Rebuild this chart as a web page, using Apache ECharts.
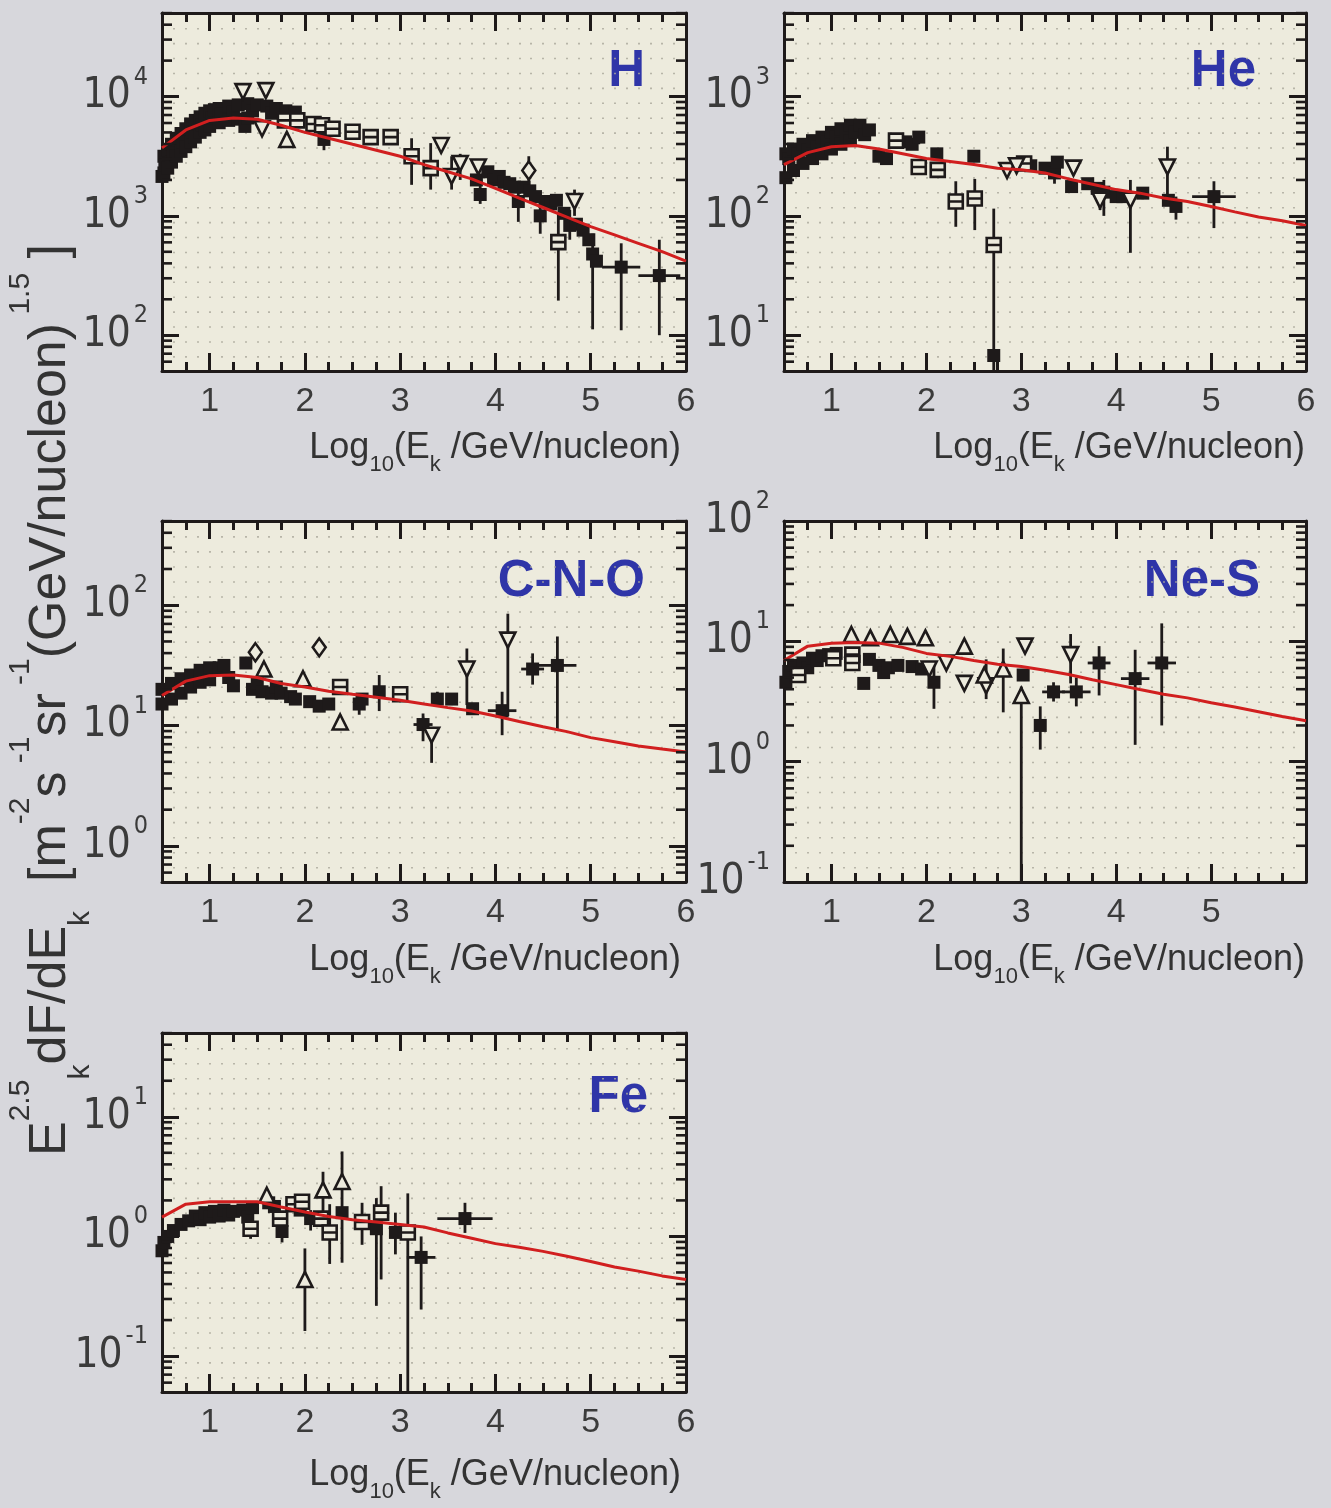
<!DOCTYPE html>
<html><head><meta charset="utf-8">
<script src="https://cdn.jsdelivr.net/npm/echarts@6.0.0/dist/echarts.min.js"></script>
<style>html,body{margin:0;padding:0;background:#d7d7dc;}#chart{width:1331px;height:1508px;}</style>
</head><body><div id="chart"></div>
<script>
// ---------------- tick labels ----------------
const xTickLabels = [1, 2, 3, 4, 5, 6];
const xTickLabelsNeS = [1, 2, 3, 4, 5];
const logMinorMantissas = [2, 3, 4, 5, 6, 7, 8, 9];
const panelNames = ['H', 'He', 'C-N-O', 'Ne-S', 'Fe'];

// ---------------- data: [log10(Ek), flux, yLow, yHigh, xHalfErr] ----------------
// H
const H_model = [[0.5,3715],[0.75,5250],[1.0,6310],[1.25,6610],[1.5,6460],[1.75,5750],[2.0,5010],[2.25,4470],[2.5,3980],[2.75,3550],[3.0,3160],[3.25,2690],[3.5,2340],[3.75,2040],[4.0,1700],[4.25,1410],[4.5,1175],[4.75,977],[5.0,813],[5.25,692],[5.5,589],[5.75,501],[6.0,417]];
const H_filled = [[0.50,2140],[0.52,2290],[0.52,3160],[0.53,2690],[0.56,2510],[0.56,3550],[0.60,2820],[0.60,3980],[0.62,3390],[0.65,3160],[0.65,4470],[0.70,3470],[0.70,4900],[0.72,4170],[0.75,3800],[0.75,5370],[0.80,4170],[0.80,5890],[0.82,5010],[0.85,4570],[0.85,6310],[0.90,5010],[0.90,6760],[0.92,5750],[0.95,5250],[0.95,7240],[1.00,5620],[1.00,7590],[1.02,6610],[1.05,7760],[1.10,6030],[1.10,7940],[1.12,7080],[1.20,6310],[1.20,8320],[1.25,7410],[1.30,6460],[1.30,8510],[1.37,5620],[1.40,6610],[1.40,8710],[1.45,7590],[1.50,8510],[1.60,8320],[1.65,7240],[1.70,7940],[1.80,7590],[1.90,7410],
  [2.20,4370,3550,4900],[3.80,2000],[3.84,1510,1260,1820],[3.92,2340],[3.98,2000],[4.04,2140],[4.09,1910],[4.15,1860],[4.20,1740],[4.24,1320,891,1585],[4.30,1740],[4.36,1620],[4.42,1450],[4.47,1000,708,1200],[4.52,1320],[4.58,1260],[4.64,1350],[4.72,1050],[4.78,832,631,1120],[4.85,851],[4.92,759],[4.98,631],[5.02,479,112,708],[5.06,417],[5.32,372,110,589,0.2],[5.72,316,100,631,0.22]];
const H_openSq = [[1.79,6310],[1.92,6310],[2.09,5890],[2.18,5750],[2.29,5370],[2.50,5070],[2.69,4570],[2.90,4570],[3.12,3160,1820,4470],[3.32,2510,1660,4070],[4.66,603,195,1050]];
const H_triDown = [[1.35,11000,9550,11500],[1.59,11200],[1.55,5370],[3.43,3890],[3.54,2140,1660,3160],[3.63,2750,2000,3310],[3.82,2570],[4.83,1320,1000,1660]];
const H_triUp = [[1.81,4370,3800,5010]];
const H_diamond = [[4.35,2400,1660,3160]];
// He
const He_model = [[0.5,269],[0.75,339],[1.0,380],[1.25,389],[1.5,363],[1.75,331],[2.0,302],[2.25,285],[2.5,269],[2.75,251],[3.0,243],[3.25,229],[3.5,204],[3.75,184],[4.0,166],[4.25,155],[4.5,141],[4.75,132],[5.0,120],[5.25,108],[5.5,98],[5.75,91],[6.0,83]];
const He_filled = [[0.52,331],[0.52,209],[0.55,302],[0.60,363],[0.60,240],[0.65,331],[0.70,398],[0.70,275],[0.75,355],[0.80,427],[0.80,302],[0.85,380],[0.90,457],[0.90,331],[0.95,417],[1.00,501],[1.00,363],[1.05,457],[1.10,537],[1.10,398],[1.15,490],[1.20,575],[1.20,427],[1.25,501],[1.30,575],[1.35,479],[1.40,525],
  [1.50,316],[1.58,302],[1.78,417],[1.85,398],[1.92,457,398,490],[2.11,331],[2.50,316,288,355],[2.71,6.76],[3.10,263],[3.25,251],[3.35,229,186,263],[3.38,282],[3.53,176],[3.70,186],[3.80,170],[3.87,158,100,200],[4.00,145],[4.07,145],[4.28,155,138,174],[4.55,135],[4.63,120,93,145],[5.03,145,79,195,0.23]];
const He_openSq = [[1.68,427],[1.92,257],[2.12,243],[2.31,132,81,195],[2.51,140,76,204],[2.71,57,4,115],[3.03,275]];
const He_triDown = [[2.85,240],[2.95,263],[3.55,251],[3.83,135,112,158],[4.15,135,49,200],[4.54,257,145,380]];
const He_triUp = [];
const He_diamond = [];
// C-N-O
const CNO_model = [[0.5,17.8],[0.75,23.4],[1.0,26.0],[1.25,26.3],[1.5,25.1],[1.75,22.4],[2.0,20.9],[2.25,19.3],[2.5,18.2],[2.75,17.2],[3.0,16.2],[3.25,15.1],[3.5,14.1],[3.75,13.2],[4.0,12.0],[4.25,10.8],[4.5,9.77],[4.75,8.91],[5.0,7.94],[5.25,7.33],[5.5,6.76],[5.75,6.38],[6.0,6.03]];
const CNO_filled = [[0.50,20.0],[0.50,15.1],[0.60,22.4],[0.60,16.6],[0.70,24.5],[0.70,18.6],[0.80,26.3],[0.80,20.9],[0.90,28.8],[0.90,22.9],[1.00,30.2],[1.00,24.0],[1.10,30.2],[1.15,31.6],[1.20,25.1],[1.25,21.4],[1.38,33.1],[1.45,20.0],[1.50,22.4],[1.55,19.1],[1.65,18.6],[1.70,20.9],[1.75,18.6],[1.85,17.4],[1.90,16.6],[2.05,15.8],[2.15,14.5],[2.25,15.1],
  [2.57,15.1,12.3,17.8],[2.60,16.6],[2.78,19.1,13.2,26.3],[3.24,10.2,7.41,12.6,0.1],[3.39,16.6,14.5,19.1,0.06],[3.54,16.6,14.8,18.6,0.06],[3.76,13.8],[4.07,13.3,8.32,19.1,0.15],[4.39,29.5,21.9,39.8,0.12],[4.65,31.6,9.33,55.0,0.2]];
const CNO_openSq = [[2.37,20.9],[3.00,18.2]];
const CNO_triDown = [[3.33,8.32,4.90,9.5],[3.70,29.5,14.8,43.7],[4.13,51.3,12.0,85.1]];
const CNO_triUp = [[1.57,29.5],[1.98,24.5],[2.37,10.7,9.55,12.3]];
const CNO_diamond = [[1.48,40.7,38,47.9],[2.15,44.7]];
// Ne-S
const NeS_model = [[0.5,6.92],[0.75,9.12],[1.0,9.66],[1.25,9.77],[1.5,9.66],[1.75,8.91],[2.0,7.94],[2.25,7.5],[2.5,6.92],[2.75,6.46],[3.0,6.17],[3.25,5.75],[3.5,5.31],[3.75,4.79],[4.0,4.37],[4.25,3.98],[4.5,3.63],[4.75,3.39],[5.0,3.09],[5.25,2.85],[5.5,2.6],[5.75,2.37],[6.0,2.19]];
const NeS_filled = [[0.52,4.57],[0.55,5.62],[0.60,6.31],[0.70,6.61],[0.75,6.03],[0.80,7.24],[0.85,6.92],[0.90,7.59],[0.97,7.76],[1.05,7.94],[1.34,4.47],[1.40,7.08],[1.50,6.31],[1.55,5.50],[1.60,6.03],[1.70,6.31],[1.85,6.17],[1.95,5.89],
  [2.08,4.57,2.75,6.31],[3.02,5.25],[3.20,2.0,1.26,2.88],[3.34,3.80,3.16,4.57,0.12],[3.58,3.80,2.88,5.01,0.15],[3.82,6.61,3.55,9.12,0.12],[4.20,4.90,1.38,8.51,0.15],[4.48,6.61,2.0,14.1,0.15]];
const NeS_openSq = [[0.65,5.25],[1.02,7.24],[1.22,7.76],[1.22,6.61]];
const NeS_triDown = [[2.03,5.89],[2.21,6.61],[2.40,4.47],[2.63,4.27,3.31,7.08],[3.04,9.12,8.5,10.0],[3.52,7.76,4.47,11.5]];
const NeS_triUp = [[1.21,11.4],[1.41,10.7],[1.62,11.4],[1.80,11.0],[1.99,10.7],[2.40,9.12],[2.61,5.25],[2.81,5.89,2.57,8.71],[3.00,3.55,0.08,4.2]];
const NeS_diamond = [];
// Fe
const Fe_model = [[0.5,1.45],[0.75,1.86],[1.0,1.95],[1.25,1.95],[1.5,1.95],[1.75,1.76],[2.0,1.60],[2.25,1.47],[2.5,1.38],[2.75,1.32],[3.0,1.26],[3.25,1.20],[3.5,1.07],[3.75,0.966],[4.0,0.871],[4.25,0.813],[4.5,0.75],[4.75,0.684],[5.0,0.617],[5.25,0.556],[5.5,0.513],[5.75,0.468],[6.0,0.437]];
const Fe_filled = [[0.50,0.759],[0.52,0.891],[0.56,1.00],[0.62,1.12],[0.70,1.26],[0.78,1.35],[0.85,1.48],[0.90,1.38],[0.95,1.58],[1.00,1.45],[1.05,1.62],[1.10,1.48],[1.15,1.66],[1.20,1.51],[1.25,1.62],[1.35,1.66],[1.40,1.45],[1.45,1.74],[1.62,1.91],[1.68,1.78],[1.76,1.10,0.891,1.2],[1.95,1.66],[2.06,1.41,1.12,1.66],[2.39,1.58],[2.75,1.16,0.263,2.09],[2.95,1.08,0.708,1.58],[3.22,0.668,0.245,1.00,0.15],[3.68,1.41,1.07,1.91,0.29]];
const Fe_openSq = [[1.43,1.16,0.955,1.3],[1.74,1.41],[1.88,1.86],[1.97,1.95],[2.17,1.41],[2.26,1.08,0.589,1.86],[2.60,1.32,0.851,1.91],[2.80,1.58,0.437,2.63],[3.08,1.08,0.03,2.29]];
const Fe_triDown = [];
const Fe_triUp = [[1.60,2.21],[2.00,0.437,0.162,0.794],[2.19,2.45,1.26,3.47],[2.39,2.88,0.603,5.13]];
const Fe_diamond = [];

// ---------------- styling / layout ----------------
const INK = '#1e1a1a', BLUE = '#2f35a8', RED = '#d11f1f', PLOT_BG = '#edebdd', DOT = '#aaa89c';
const FONT = '"Liberation Sans", Arial, sans-serif';
const NARROW = '"Liberation Sans Narrow", "DejaVu Sans Condensed", "Liberation Sans", sans-serif';

const panels = [
  {name: panelNames[0], left:162, top:13, width:524, height:358, yExp:[1.7,4.7], xLabels:xTickLabels, labelPos:[645,72], titlePos:[681,448],
   model:H_model, sets:{filled:H_filled, openSq:H_openSq, triDown:H_triDown, triUp:H_triUp, diamond:H_diamond}},
  {name: panelNames[1], left:784, top:13, width:522, height:358, yExp:[0.7,3.7], xLabels:xTickLabels, labelPos:[1256,72], titlePos:[1305,448],
   model:He_model, sets:{filled:He_filled, openSq:He_openSq, triDown:He_triDown, triUp:He_triUp, diamond:He_diamond}},
  {name: panelNames[2], left:162, top:521, width:524, height:361, yExp:[-0.3,2.7], xLabels:xTickLabels, labelPos:[645,582], titlePos:[681,960],
   model:CNO_model, sets:{filled:CNO_filled, openSq:CNO_openSq, triDown:CNO_triDown, triUp:CNO_triUp, diamond:CNO_diamond}},
  {name: panelNames[3], left:784, top:521, width:522, height:361, yExp:[-1,2], xLabels:xTickLabelsNeS, labelPos:[1260,582], titlePos:[1305,960],
   model:NeS_model, sets:{filled:NeS_filled, openSq:NeS_openSq, triDown:NeS_triDown, triUp:NeS_triUp, diamond:NeS_diamond}},
  {name: panelNames[4], left:162, top:1033, width:524, height:359, yExp:[-1.3,1.7], xLabels:xTickLabels, labelPos:[648,1098], titlePos:[681,1475],
   model:Fe_model, sets:{filled:Fe_filled, openSq:Fe_openSq, triDown:Fe_triDown, triUp:Fe_triUp, diamond:Fe_diamond}}
];

const openStyle = {color: PLOT_BG, borderColor: INK, borderWidth: 2.6, opacity: 1};
const markerStyles = {
  filled: {symbol:'rect', symbolSize:13, itemStyle:{color: INK, opacity: 1}},
  openSq: {symbol:'path://M0,0L10,0L10,10L0,10Z M0,5L10,5', symbolSize:14, itemStyle:openStyle},
  triDown: {symbol:'triangle', symbolRotate:180, symbolSize:15, itemStyle:openStyle},
  triUp: {symbol:'triangle', symbolSize:15, itemStyle:openStyle},
  diamond: {symbol:'diamond', symbolSize:[13,18], itemStyle:openStyle}
};

function pow10Label(v) {
  const e = Math.log10(v), r = Math.round(e);
  if (Math.abs(e - r) > 1e-6) return '';
  return '{b|10}{s|' + r + '}';
}
function minorTickValues(e0, e1) {
  const out = [];
  for (let n = Math.floor(e0); n <= Math.ceil(e1); n++) {
    for (const m of logMinorMantissas) {
      const v = m * Math.pow(10, n), l = Math.log10(v);
      if (l > e0 + 1e-9 && l < e1 - 1e-9) out.push([0.5, v]);
    }
  }
  return out;
}
function renderErr(params, api) {
  const x = api.value(0), y = api.value(1), lo = api.value(2), hi = api.value(3), dx = api.value(4);
  const st = {stroke: INK, lineWidth: 2.8};
  const ch = [];
  if (lo !== hi) {
    const a = api.coord([x, lo]), b = api.coord([x, hi]);
    ch.push({type:'line', shape:{x1:a[0], y1:a[1], x2:b[0], y2:b[1]}, style:st});
  }
  if (dx > 0) {
    const a = api.coord([x - dx, y]), b = api.coord([x + dx, y]);
    ch.push({type:'line', shape:{x1:a[0], y1:a[1], x2:b[0], y2:b[1]}, style:st});
  }
  return {type:'group', children: ch};
}
function renderMinor(params, api) {
  const cs = params.coordSys;
  const y = api.coord([0.5, api.value(1)])[1];
  const st = {stroke: INK, lineWidth: 2.6};
  return {type:'group', children:[
    {type:'line', shape:{x1:cs.x, y1:y, x2:cs.x + 10, y2:y}, style:st},
    {type:'line', shape:{x1:cs.x + cs.width - 10, y1:y, x2:cs.x + cs.width, y2:y}, style:st}
  ]};
}

const grids = [], xAxes = [], yAxes = [], series = [], graphics = [];
const lineSt = {color: INK, width: 3};

panels.forEach((p, g) => {
  grids.push({left:p.left, top:p.top, width:p.width, height:p.height, show:true, backgroundColor:PLOT_BG, borderWidth:0, containLabel:false});
  const labels = p.xLabels;
  const base = {gridIndex:g, type:'value', min:0.5, max:6, splitLine:{show:false}};
  xAxes.push(Object.assign({}, base, {position:'bottom',
    axisLine:{show:true, onZero:false, lineStyle:lineSt},
    axisTick:{show:true, inside:true, length:18, lineStyle:lineSt},
    axisLabel:{show:true, margin:14, color:'#3b3b3b', fontSize:34, fontFamily:FONT, showMinLabel:true, showMaxLabel:true,
      formatter: v => labels.indexOf(v) >= 0 ? String(v) : ''}}));
  xAxes.push(Object.assign({}, base, {position:'bottom', interval:0.25,
    axisLine:{show:false}, axisTick:{show:true, inside:true, length:9, lineStyle:lineSt}, axisLabel:{show:false}}));
  xAxes.push(Object.assign({}, base, {position:'top',
    axisLine:{show:true, onZero:false, lineStyle:lineSt},
    axisTick:{show:true, inside:true, length:18, lineStyle:lineSt}, axisLabel:{show:false}}));
  xAxes.push(Object.assign({}, base, {position:'top', interval:0.25,
    axisLine:{show:false}, axisTick:{show:true, inside:true, length:9, lineStyle:lineSt}, axisLabel:{show:false}}));
  xAxes.push(Object.assign({}, base, {position:'bottom', interval:0.125,
    axisLine:{show:false}, axisTick:{show:false}, axisLabel:{show:false},
    splitLine:{show:true, lineStyle:{color:DOT, width:1.6, type:[1.6, p.height / 24 - 1.6]}}}));

  const ymin = Math.pow(10, p.yExp[0]), ymax = Math.pow(10, p.yExp[1]);
  const ybase = {gridIndex:g, type:'log', logBase:10, min:ymin, max:ymax, splitNumber:3, splitLine:{show:false}, minorTick:{show:false}};
  yAxes.push(Object.assign({}, ybase, {position:'left',
    axisLine:{show:true, onZero:false, lineStyle:lineSt},
    axisTick:{show:true, inside:true, length:17, lineStyle:lineSt},
    axisLabel:{show:true, margin:14, showMinLabel:true, showMaxLabel:true, formatter:pow10Label,
      rich:{b:{fontSize:42, fontFamily:NARROW, color:'#3b3b3b', lineHeight:64},
            s:{fontSize:25, fontFamily:NARROW, color:'#3b3b3b', lineHeight:20, verticalAlign:'top', padding:[0,0,0,3]}}}}));
  yAxes.push(Object.assign({}, ybase, {position:'right',
    axisLine:{show:true, onZero:false, lineStyle:lineSt},
    axisTick:{show:true, inside:true, length:17, lineStyle:lineSt}, axisLabel:{show:false}}));

  const xi = 5 * g, yi = 2 * g;
  series.push({type:'custom', xAxisIndex:xi, yAxisIndex:yi, renderItem:renderMinor, data:minorTickValues(p.yExp[0], p.yExp[1]), silent:true, clip:false, z:5});
  const errData = [];
  Object.keys(p.sets).forEach(k => p.sets[k].forEach(r => {
    if (r.length > 2) errData.push([r[0], r[1], r[2] == null ? r[1] : r[2], r[3] == null ? r[1] : r[3], r[4] || 0]);
  }));
  series.push({type:'custom', xAxisIndex:xi, yAxisIndex:yi, renderItem:renderErr, data:errData, silent:true, clip:true, z:2});
  Object.keys(p.sets).forEach(k => {
    const rows = p.sets[k];
    if (!rows.length) return;
    series.push(Object.assign({type:'scatter', name:p.name + ' ' + k, xAxisIndex:xi, yAxisIndex:yi, clip:true, z:3,
      data: rows.map(r => [r[0], r[1]])}, markerStyles[k]));
  });
  series.push({type:'line', name:p.name + ' model', xAxisIndex:xi, yAxisIndex:yi, data:p.model, showSymbol:false, symbol:'none',
    lineStyle:{color:RED, width:3}, z:4, clip:true});

  graphics.push({type:'text', x:p.labelPos[0], y:p.labelPos[1], style:{text:p.name, align:'right', verticalAlign:'middle',
    fill:BLUE, font:'bold 51px ' + FONT}});
  graphics.push({type:'text', x:p.titlePos[0], y:p.titlePos[1], style:{
    text:'{a|Log}{s|10}{a|(E}{s|k}{a| /GeV/nucleon)}', align:'right', verticalAlign:'middle',
    rich:{a:{fontSize:36, fontFamily:FONT, fill:'#333', lineHeight:56}, s:{fontSize:22, fontFamily:FONT, fill:'#333', lineHeight:18, verticalAlign:'bottom'}}}});
});

graphics.push({type:'text', x:51, y:700, rotation:Math.PI / 2, style:{
  text:'{b|E}{p|2.5}{d|k}{b|dF/dE}{d|k}{b|  [m}{p|-2}{b|s}{p| -1}{b|sr}{p| -1}{b|(GeV/nucleon)}{p| 1.5}{b| ]}',
  align:'center', verticalAlign:'middle',
  rich:{b:{fontSize:52, fontFamily:FONT, fill:'#333', lineHeight:90},
        p:{fontSize:30, fontFamily:FONT, fill:'#333', lineHeight:30, verticalAlign:'top'},
        d:{fontSize:30, fontFamily:FONT, fill:'#333', lineHeight:30, verticalAlign:'bottom'}}}});

const chart = echarts.init(document.getElementById('chart'), null, {renderer:'canvas'});
chart.setOption({
  animation:false,
  backgroundColor:'#d7d7dc',
  grid:grids, xAxis:xAxes, yAxis:yAxes, series:series, graphic:graphics
});
</script></body></html>
